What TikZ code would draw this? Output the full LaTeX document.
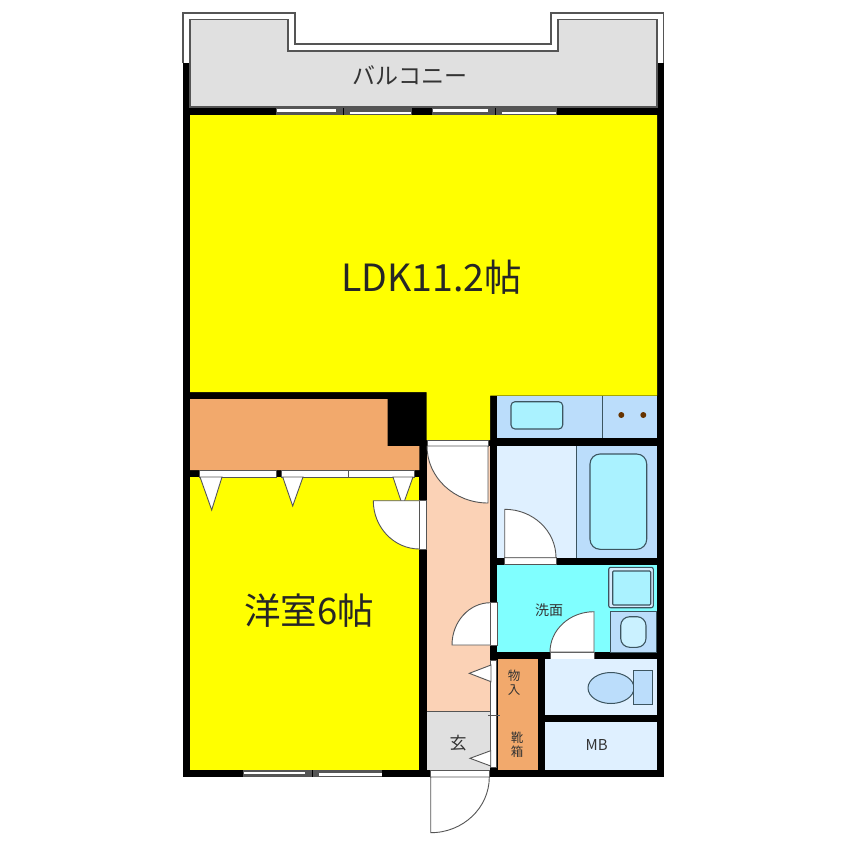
\documentclass[tikz,border=0pt]{standalone}
\usepackage{fontspec}
\usetikzlibrary{calc}
\setmainfont{Noto Sans CJK JP}
\definecolor{ldk}{HTML}{FFFF00}
\definecolor{closet}{HTML}{F2A96C}
\definecolor{hall}{HTML}{FBD2B6}
\definecolor{greyfloor}{HTML}{E0E0E0}
\definecolor{paleblue}{HTML}{DFF0FF}
\definecolor{midblue}{HTML}{BBDDFB}
\definecolor{fixture}{HTML}{AAF2FF}
\definecolor{washfloor}{HTML}{80FFFF}
\definecolor{linegrey}{HTML}{555555}
\definecolor{fixline}{HTML}{3C5560}
\tikzset{
  wall/.style={fill=black,draw=none},
  room/.style={draw=linegrey,line width=.5pt},
  fixt/.style={draw=fixline,line width=1.1pt,fill=fixture},
  doorleaf/.style={draw=linegrey,line width=.9pt,fill=white},
  strip/.style={draw=linegrey,line width=.7pt,fill=white},
  winframe/.style={fill=linegrey,draw=none},
  winglass/.style={fill=white,draw=none},
  big/.style={text=black!85,inner sep=0pt},
  small/.style={inner sep=0pt,text=black!80},
}
% quarter-circle door: hinge C, ends A and B
\newcommand{\quarterdoor}[3]{%
  \coordinate (qC) at (#1); \coordinate (qA) at (#2); \coordinate (qB) at (#3);
  \draw[doorleaf] (qC) -- (qA) .. controls ($(qA)+.5523*(qB)-.5523*(qC)$) and ($(qB)+.5523*(qA)-.5523*(qC)$) .. (qB) -- cycle;
}
\begin{document}
\begin{tikzpicture}[x=1pt,y=-1pt]
\useasboundingbox (0,0) rectangle (846,846);
\fill[white] (0,0) rectangle (846,846);
% walls
\fill[wall] (183,63) rectangle (663.5,777.3);
% balcony
\draw[linegrey,line width=1.2pt] (183,63) -- (183,13) -- (295,13) -- (295,44) -- (551,44) -- (551,13) -- (663.5,13) -- (663.5,63);
\draw[room,line width=1.1pt,fill=greyfloor] (190,107) -- (190,19.5) -- (288,19.5) -- (288,51) -- (558,51) -- (558,19.5) -- (657,19.5) -- (657,107) -- cycle;
% LDK
\fill[ldk] (190,115) -- (657,115) -- (657,395.5) -- (490,395.5) -- (490,440) -- (426.7,440) -- (426.7,392) -- (190,392) -- cycle;
% top windows
\fill[winframe] (276,107.5) rectangle (412,114.5);
\fill[winframe] (432,107.5) rectangle (557,114.5);
\fill[winglass] (277,109) rectangle (336,111.5);
\fill[winglass] (350,111.5) rectangle (411,114);
\fill[winglass] (433,109) rectangle (488,111.5);
\fill[winglass] (502,111.5) rectangle (556,114);
\fill[black] (343,107.5) rectangle (344,114.5);
\fill[black] (495,107.5) rectangle (496,114.5);
% bottom window
\fill[winframe] (242.7,770) rectangle (382.3,777.3);
\fill[winglass] (243.5,771.5) rectangle (305,774);
\fill[winglass] (319,773) rectangle (381.5,775.5);
\fill[black] (312,770) rectangle (313,777.3);
% closet of western room
\fill[closet] (190,399) -- (387.7,399) -- (387.7,446) -- (419.3,446) -- (419.3,470) -- (190,470) -- cycle;
% western room
\fill[ldk] (190,477) rectangle (419.3,770);
% closet sliding doors
\draw[strip] (199,470.5) rectangle (276,477);
\draw[strip] (281,470.5) rectangle (348,477);
\draw[strip] (348,470.5) rectangle (414,477);
\draw[doorleaf] (200,477) -- (211.7,510) -- (222,477) -- cycle;
\draw[doorleaf] (282.7,477) -- (292.7,506) -- (303,477) -- cycle;
\draw[doorleaf] (393,477) -- (402.7,506) -- (413,477) -- cycle;
% hall
\fill[hall] (426.7,446) rectangle (490,711);
\fill[greyfloor] (426.7,711) rectangle (490,770);
\draw[linegrey,line width=.9pt] (426.7,711) -- (490,711);
% door to western room
\draw[strip] (419.5,500.7) rectangle (426.5,549);
\quarterdoor{419.5,500.7}{373.3,500.7}{419.5,549}
% door hall-LDK
\draw[strip] (427,440) rectangle (488,446);
\quarterdoor{488,446}{427,446}{488,503}
% washbasin room
\fill[midblue] (497.3,396) rectangle (657,438);
\draw[fixline,line width=.9pt] (602.7,396) -- (602.7,438);
\draw[fixt,rounded corners=4pt] (511,401.7) rectangle (562.7,429);
\fill[black!60!orange] (621.3,415) circle (3pt);
\fill[black!60!orange] (643.3,415) circle (3pt);
% bathroom
\fill[paleblue] (497.3,446) rectangle (576.7,557.7);
\fill[midblue] (576.7,446) rectangle (657,557.7);
\draw[fixline,line width=.9pt] (576.7,446) -- (576.7,557.7);
\draw[fixt,rounded corners=10pt] (590,454) rectangle (646.7,549.3);
\draw[strip] (504.7,557.7) rectangle (556,564.5);
\quarterdoor{504.7,557.7}{504.7,509.3}{556,557.7}
% wash room
\fill[washfloor] (497.3,564.5) rectangle (656.5,652);
\draw[fixline,line width=1.1pt,fill=midblue!60,rounded corners=2pt] (608.7,567.3) rectangle (653.3,607.7);
\draw[fixt,rounded corners=1pt] (612.7,571) rectangle (650.7,605);
\draw[fixline,line width=.7pt,fill=midblue] (610,611) -- (656.5,611) -- (656.5,652) -- (610,652) -- cycle;
\draw[fixt,rounded corners=9pt,fill=paleblue!60!fixture] (620.7,616.7) rectangle (646,647.3);
\draw[strip] (550,652) rectangle (594,659);
\quarterdoor{594,652}{594,611.7}{550,652}
% door hall-wash room
\draw[strip] (490.5,602.7) rectangle (497,645);
\quarterdoor{490.5,645}{452,645}{490.5,602.7}
% storage
\fill[closet] (497.7,659) rectangle (537.7,770);
\draw[strip] (490.7,660) rectangle (496.7,767);
\draw[linegrey,line width=.8pt] (488,715) -- (500,715);
\draw[doorleaf] (491,665) -- (469.3,673.3) -- (491,681.7) -- cycle;
\draw[doorleaf] (490.7,750.7) -- (470,758.3) -- (490.7,766) -- cycle;
% toilet
\fill[paleblue] (545,659) rectangle (656.5,715);
\draw[fixline,line width=1pt,fill=midblue] (611,688) ellipse (23 and 15.5);
\draw[fixline,line width=1pt,fill=midblue] (633.5,670.5) rectangle (652,704.5);
% MB
\fill[paleblue] (545,722) rectangle (656.5,770);
% entrance door
\draw[strip] (430.7,770.5) rectangle (489.3,777);
\quarterdoor{430.7,777}{489.3,777}{430.7,832.7}
% labels
\node[big,font=\fontsize{37.5}{37.5}\selectfont] (ldklabel) at (431.5,277) {LDK11.2帖};
\node[big,font=\fontsize{36.5}{36.5}\selectfont] (westlabel) at (309,611) {洋室6帖};
\node[small,font=\fontsize{23}{23}\selectfont] (balconylabel) at (410,75) {バルコニー};
\node[small,font=\fontsize{14}{14}\selectfont] (washlabel) at (549,610) {洗面};
\node[small,font=\fontsize{12.5}{12.5}\selectfont] (store1) at (514,676) {物};
\node[small,font=\fontsize{12.5}{12.5}\selectfont] (store2) at (514,690) {入};
\node[small,font=\fontsize{12.5}{12.5}\selectfont] (shoe1) at (517,738) {靴};
\node[small,font=\fontsize{12.5}{12.5}\selectfont] (shoe2) at (517,752) {箱};
\node[small,font=\fontsize{17}{17}\selectfont] (entrylabel) at (458,743) {玄};
\node[small,font=\fontsize{15}{15}\selectfont] (mblabel) at (596.7,745) {MB};
\end{tikzpicture}
\end{document}
